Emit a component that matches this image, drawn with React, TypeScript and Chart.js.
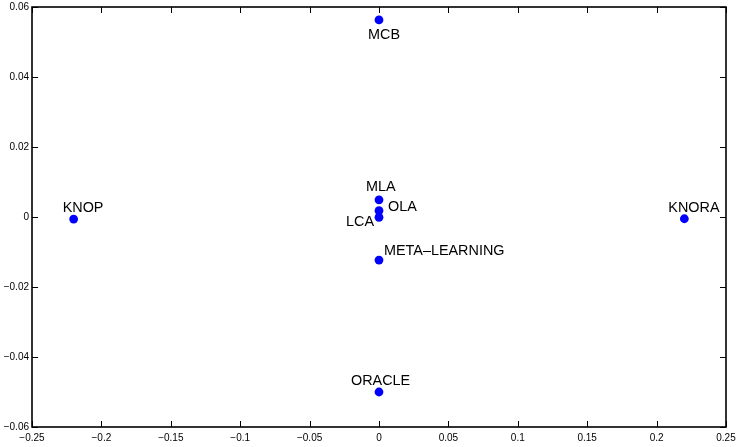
import React, { useEffect, useRef } from "react";
import { Chart, registerables } from "chart.js";

Chart.register(...registerables);

const names = ["KNOP", "KNORA", "MCB", "ORACLE", "MLA", "OLA", "LCA", "META\u2013LEARNING"];
const xValues = [-0.22, 0.22, 0, 0, 0, 0, 0, 0];
const yValues = [-0.0006, -0.0005, 0.0563, -0.0500, 0.0049, 0.0018, -0.0001, -0.0123];
// label offsets in pixels from each point (left edge of text, vertical middle)
const labelDx = [-11, -16, -11, -28, -13, 9, -33, 5];
const labelDy = [-11, -11, 15, -11, -13, -4, 5, -9];

const xTicks = [-0.25, -0.2, -0.15, -0.1, -0.05, 0, 0.05, 0.1, 0.15, 0.2, 0.25];
const yTicks = [-0.06, -0.04, -0.02, 0, 0.02, 0.04, 0.06];

const fmt = (v: number) => {
  const s = String(Math.round(v * 1000) / 1000);
  return s.replace("-", "\u2212");
};

const FONT = "'Liberation Sans', Arial, sans-serif";

const boxPlugin = {
  id: "boxPlugin",
  afterDraw(chart: any) {
    const { ctx, chartArea: a, scales } = chart;
    const xs = scales.x;
    const ys = scales.y;
    ctx.save();
    ctx.strokeStyle = "#000";
    ctx.lineWidth = 1;
    const tl = 6;
    ctx.beginPath();
    xTicks.forEach((t) => {
      const px = Math.round(xs.getPixelForValue(t)) + 0.5;
      ctx.moveTo(px, a.bottom);
      ctx.lineTo(px, a.bottom - tl);
      ctx.moveTo(px, a.top);
      ctx.lineTo(px, a.top + tl);
    });
    yTicks.forEach((t) => {
      const py = Math.round(ys.getPixelForValue(t)) + 0.5;
      ctx.moveTo(a.left, py);
      ctx.lineTo(a.left + tl, py);
      ctx.moveTo(a.right, py);
      ctx.lineTo(a.right - tl, py);
    });
    ctx.stroke();
    ctx.lineWidth = 1.6;
    ctx.strokeRect(a.left, a.top, a.right - a.left, a.bottom - a.top);
    // point labels
    ctx.fillStyle = "#000";
    ctx.font = "14.4px " + FONT;
    ctx.textAlign = "left";
    ctx.textBaseline = "middle";
    const meta = chart.getDatasetMeta(0);
    meta.data.forEach((el: any, i: number) => {
      ctx.fillText(names[i], el.x + labelDx[i], el.y + labelDy[i]);
    });
    ctx.restore();
  },
};

export default function App() {
  const ref = useRef<HTMLCanvasElement>(null);
  useEffect(() => {
    document.body.style.margin = "0";
    const data = xValues.map((x, i) => ({ x, y: yValues[i] }));
    const chart = new Chart(ref.current!, {
      type: "scatter",
      data: {
        datasets: [
          {
            data,
            backgroundColor: "#0000ff",
            borderColor: "#0000ff",
            pointRadius: 4.4,
            pointHoverRadius: 4.4,
            borderWidth: 0,
          },
        ],
      },
      options: {
        animation: false,
        responsive: false,
        events: [],
        layout: { padding: { top: 7, right: 10, left: 0, bottom: 0 } },
        plugins: { legend: { display: false }, tooltip: { enabled: false } },
        scales: {
          x: {
            type: "linear",
            min: -0.25,
            max: 0.25,
            afterBuildTicks: (s: any) => {
              s.ticks = xTicks.map((v) => ({ value: v }));
            },
            afterFit: (s: any) => {
              s.height = 20;
              s.paddingLeft = 0;
              s.paddingRight = 0;
            },
            grid: { display: false, drawTicks: false },
            border: { display: false },
            ticks: {
              color: "#000",
              font: { size: 10, family: FONT },
              padding: 5,
              maxRotation: 0,
              autoSkip: false,
              callback: (v: any) => fmt(Number(v)),
            },
          },
          y: {
            type: "linear",
            min: -0.06,
            max: 0.06,
            afterBuildTicks: (s: any) => {
              s.ticks = yTicks.map((v) => ({ value: v }));
            },
            afterFit: (s: any) => {
              s.width = 32;
              s.paddingTop = 0;
              s.paddingBottom = 0;
            },
            grid: { display: false, drawTicks: false },
            border: { display: false },
            ticks: {
              color: "#000",
              font: { size: 10, family: FONT },
              padding: 3,
              autoSkip: false,
              callback: (v: any) => fmt(Number(v)),
            },
          },
        },
      },
      plugins: [boxPlugin],
    });
    return () => chart.destroy();
  }, []);
  return (
    <div style={{ position: "absolute", left: 0, top: 0, width: 736, height: 447, background: "#fff" }}>
      <canvas ref={ref} width={736} height={447} style={{ width: 736, height: 447 }} />
    </div>
  );
}
